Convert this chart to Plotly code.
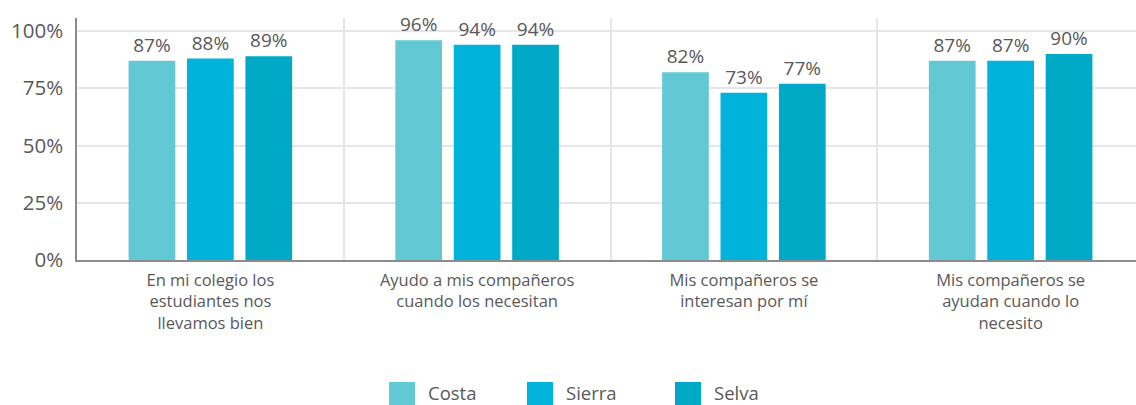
import plotly.graph_objects as go

categories = [
    "En mi colegio los<br>estudiantes nos<br>llevamos bien",
    "Ayudo a mis compañeros<br>cuando los necesitan",
    "Mis compañeros se<br>interesan por mí",
    "Mis compañeros se<br>ayudan cuando lo<br>necesito",
]
series_names = ["Costa", "Sierra", "Selva"]
costa = [0.87, 0.96, 0.82, 0.87]
sierra = [0.88, 0.94, 0.73, 0.87]
selva = [0.89, 0.94, 0.77, 0.90]
colors = ["#62C8D3", "#00B3DA", "#00AAC7"]

W, H = 1136, 405
ML, MR, MT, MB = 77, 0, 18, 145
PW, PH = W - ML - MR, H - MT - MB

FONT = "Open Sans"
TXT = "#595959"

fig = go.Figure()
for name, vals, col in zip(series_names, [costa, sierra, selva], colors):
    fig.add_trace(go.Bar(
        x=categories, y=vals, name=name, marker_color=col, marker_line_width=0,
        text=[f"{round(v*100):.0f}%" for v in vals], textposition="outside",
        textfont=dict(family=FONT, size=19, color=TXT), cliponaxis=False,
        showlegend=False,
    ))

# manual legend (large square swatches)
def px_x(p):
    return (p - ML) / PW

def px_y(p):
    return (MT + PH - p) / PH

legend_x = [389, 527, 675]
for name, col, lx in zip(series_names, colors, legend_x):
    fig.add_shape(type="rect", xref="paper", yref="paper",
                  x0=px_x(lx), x1=px_x(lx + 26), y0=px_y(382), y1=px_y(407),
                  fillcolor=col, line_width=0)
    fig.add_annotation(xref="paper", yref="paper", x=px_x(lx + 38), y=px_y(393),
                       xanchor="left", yanchor="middle", text=name, showarrow=False,
                       font=dict(family=FONT, size=18.5, color=TXT),
                       borderpad=0)

fig.update_layout(
    width=W, height=H, barmode="group", bargap=0.343, bargroupgap=0.2,
    margin=dict(l=ML, r=MR, t=MT, b=MB, pad=0, autoexpand=False),
    paper_bgcolor="white", plot_bgcolor="white",
    font=dict(family=FONT, color=TXT),
)
fig.update_xaxes(
    range=[-0.5, 3.47], tickson="boundaries", showgrid=True, gridcolor="#E6E6E6", gridwidth=1.5,
    showline=True, linecolor="#8C8C8C", linewidth=2, ticks="", automargin=False,
    ticklabelstandoff=4,
    tickfont=dict(family=FONT, size=16.5, color=TXT), tickangle=0,
)
fig.update_yaxes(
    range=[0, 1.057], tickvals=[0, 0.25, 0.5, 0.75, 1.0], tickformat=".0%",
    showgrid=True, gridcolor="#E6E6E6", gridwidth=1.5, zeroline=False,
    showline=True, linecolor="#8C8C8C", linewidth=1.5, ticks="", automargin=False,
    ticklabelstandoff=8, tickfont=dict(family=FONT, size=20.5, color=TXT),
)
fig.write_html(
    "out.html",
    config={"displayModeBar": False},
    post_script="document.body.style.margin='0';document.body.style.overflow='hidden';",
)
